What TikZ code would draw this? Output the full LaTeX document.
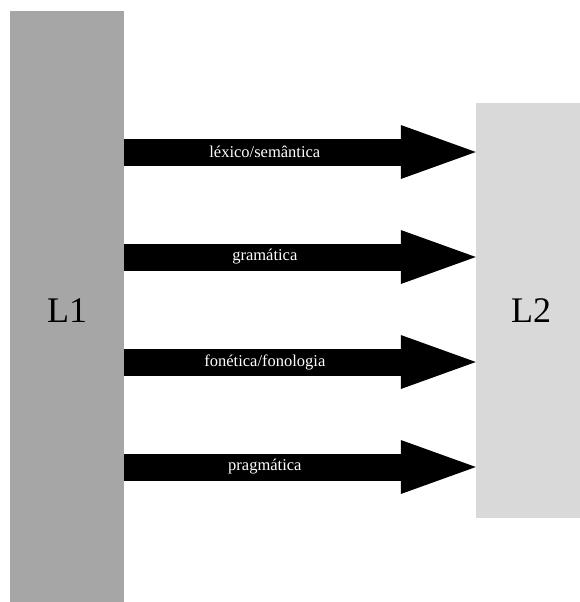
\documentclass[tikz,border=0pt]{standalone}
\usepackage{fontspec}
\setmainfont{Liberation Serif}
\usetikzlibrary{arrows.meta}
\definecolor{darkbox}{RGB}{166,166,166}
\definecolor{lightbox}{RGB}{217,217,217}

\begin{document}
\begin{tikzpicture}[
  x=1pt, y=-1pt,
  lang/.style={draw=none, inner sep=0pt, font=\fontsize{36}{40}\selectfont},
  flow/.style={line width=27pt, -{Triangle[length=75pt, width=54pt, line width=0pt]}},
  flow label/.style={text=white, inner sep=0pt, font=\fontsize{16.5}{18}\selectfont}
]
\useasboundingbox (0,0) rectangle (580,602);

% Sprachen
\node[lang, fill=darkbox, minimum width=114, minimum height=592, text height=31pt] (L1) at (67,307) {L1};
\node[lang, fill=lightbox, minimum width=110, minimum height=415] (L2) at (531,310.5) {L2};

% Ebenen
\coordinate (r1) at (0,152);
\coordinate (r2) at (0,257);
\coordinate (r3) at (0,362);
\coordinate (r4) at (0,467);

\draw[flow] (L1.east |- r1) -- (L2.west |- r1) node[flow label, pos=.4] {léxico/semântica};
\draw[flow] (L1.east |- r2) -- (L2.west |- r2) node[flow label, pos=.4] {gramática};
\draw[flow] (L1.east |- r3) -- (L2.west |- r3) node[flow label, pos=.4] {fonética/fonologia};
\draw[flow] (L1.east |- r4) -- (L2.west |- r4) node[flow label, pos=.4] {pragmática};
\end{tikzpicture}
\end{document}
